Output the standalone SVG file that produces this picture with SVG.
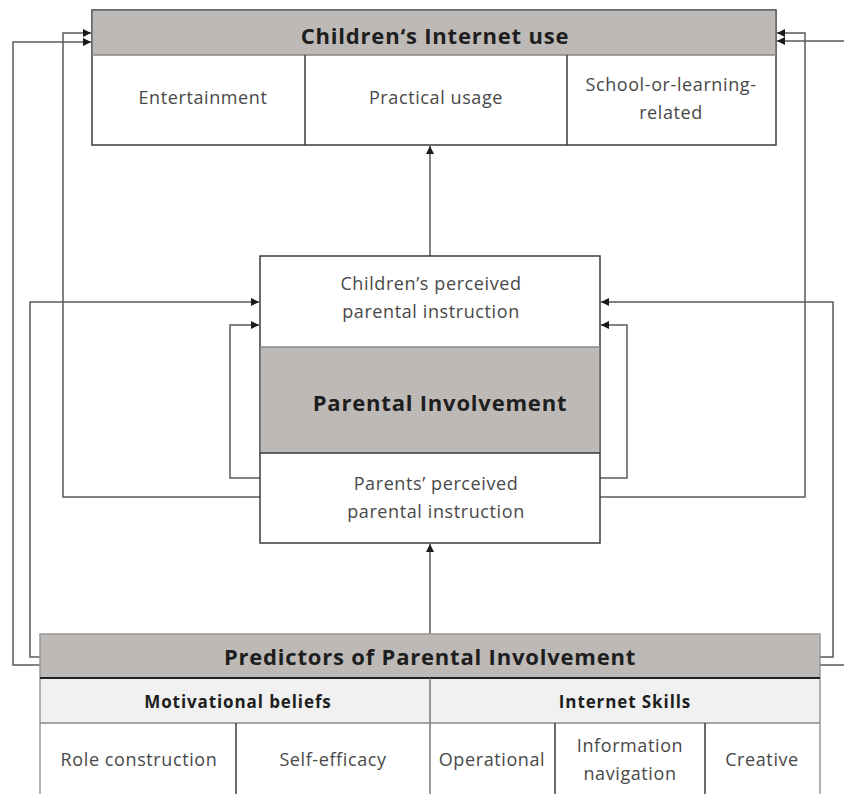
<svg xmlns="http://www.w3.org/2000/svg" width="844" height="794" viewBox="0 0 844 794">
<defs>
<marker id="arr" viewBox="0 0 10 10" refX="10" refY="5" markerWidth="9" markerHeight="8" markerUnits="userSpaceOnUse" orient="auto">
<path d="M0,0 L10,5 L0,10 Z" fill="#1a1a1a"/>
</marker>
</defs>
<style>
.box{fill:#ffffff;stroke:#3a3a3a;stroke-width:1.5}
.hdr{fill:#bdb9b7}
.sub{fill:#f1f1f1}
.div{stroke:#3a3a3a;stroke-width:1.5;fill:none}
.con{fill:none;stroke:#5a5a5a;stroke-width:1.5}
.t{font-family:"Open Sans","Noto Sans","Liberation Sans",sans-serif;fill:#484848;font-size:18px;letter-spacing:0.6px;text-anchor:middle}
.b{font-family:"Open Sans","Noto Sans","Liberation Sans",sans-serif;fill:#1e1e1e;font-weight:bold;font-size:22px;letter-spacing:0.8px;text-anchor:middle}
.s{font-family:"Open Sans","Noto Sans","Liberation Sans",sans-serif;fill:#1e1e1e;font-weight:bold;font-size:17px;letter-spacing:0.9px;text-anchor:middle}
</style>
<rect width="844" height="794" fill="#ffffff"/>

<g id="connectors">
<path class="con" d="M430,256 L430,146" marker-end="url(#arr)"/>
<path class="con" d="M430,634 L430,544" marker-end="url(#arr)"/>
<path class="con" d="M260,497 L63,497 L63,33 L91,33" marker-end="url(#arr)"/>
<path class="con" d="M40,665 L13,665 L13,42 L91,42" marker-end="url(#arr)"/>
<path class="con" d="M40,657 L30,657 L30,302 L259,302" marker-end="url(#arr)"/>
<path class="con" d="M260,478 L230,478 L230,325 L259,325" marker-end="url(#arr)"/>
<path class="con" d="M600,497 L805,497 L805,33 L777,33" marker-end="url(#arr)"/>
<path class="con" d="M820,665 L850,665 L850,41 L777,41" marker-end="url(#arr)"/>
<path class="con" d="M820,657 L833,657 L833,302 L601,302" marker-end="url(#arr)"/>
<path class="con" d="M600,478 L627,478 L627,325 L601,325" marker-end="url(#arr)"/>
</g>

<g id="childrens-internet-use">
<rect class="box" x="92" y="10" width="684" height="135"/>
<rect class="hdr" x="92.75" y="10.75" width="682.5" height="44.5"/>
<line class="div" x1="92" y1="55" x2="776" y2="55" style="stroke:#888"/>
<line class="div" x1="305" y1="55" x2="305" y2="145"/>
<line class="div" x1="567" y1="55" x2="567" y2="145"/>
<text class="b" x="435" y="44">Children‘s Internet use</text>
<text class="t" x="203" y="104">Entertainment</text>
<text class="t" x="436" y="104">Practical usage</text>
<text class="t" x="671" y="91">School-or-learning-</text>
<text class="t" x="671" y="119">related</text>
</g>

<g id="parental-involvement">
<rect class="box" x="260" y="256" width="340" height="287"/>
<rect class="hdr" x="260.75" y="347" width="338.5" height="106"/>
<line class="div" x1="260" y1="347" x2="600" y2="347" style="stroke:#888"/>
<line class="div" x1="260" y1="453" x2="600" y2="453"/>
<text class="t" x="431" y="290">Children’s perceived</text>
<text class="t" x="431" y="318">parental instruction</text>
<text class="b" x="440" y="411">Parental Involvement</text>
<text class="t" x="436" y="490">Parents’ perceived</text>
<text class="t" x="436" y="518">parental instruction</text>
</g>

<g id="predictors">
<rect class="hdr" x="40" y="634" width="780" height="44"/>
<rect class="sub" x="40" y="678" width="780" height="45"/>
<rect x="40" y="723" width="780" height="80" fill="#ffffff"/>
<path class="div" d="M40,800 L40,634 L820,634 L820,800" style="stroke:#999"/>
<line class="div" x1="40" y1="678" x2="820" y2="678" style="stroke:#222;stroke-width:2"/>
<line class="div" x1="40" y1="723" x2="820" y2="723" style="stroke:#888"/>
<line class="div" x1="430" y1="678" x2="430" y2="800" style="stroke:#777"/>
<line class="div" x1="236" y1="723" x2="236" y2="800"/>
<line class="div" x1="555" y1="723" x2="555" y2="800"/>
<line class="div" x1="705" y1="723" x2="705" y2="800"/>
<text class="b" x="430" y="665">Predictors of Parental Involvement</text>
<text class="s" x="238" y="708">Motivational beliefs</text>
<text class="s" x="625" y="708">Internet Skills</text>
<text class="t" x="139" y="766">Role construction</text>
<text class="t" x="333" y="766">Self-efficacy</text>
<text class="t" x="492" y="766">Operational</text>
<text class="t" x="630" y="752">Information</text>
<text class="t" x="630" y="780">navigation</text>
<text class="t" x="762" y="766">Creative</text>
</g>
</svg>
